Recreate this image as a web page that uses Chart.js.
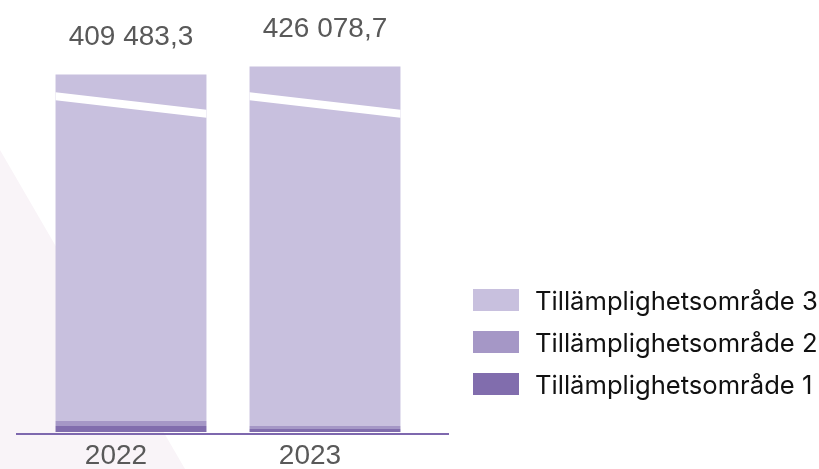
<!DOCTYPE html>
<html>
<head>
<meta charset="utf-8">
<script src="https://cdn.jsdelivr.net/npm/chart.js@4.4.1/dist/chart.umd.min.js"></script>
<style>
  html, body { margin: 0; padding: 0; background: #fff; }
  #wrap { position: relative; width: 819px; height: 469px; overflow: hidden; }
  #bg {
    position: absolute; left: 0; top: 0; width: 819px; height: 469px;
    background: #f9f4f8;
    clip-path: polygon(0 150px, 185px 469px, 0 469px);
  }
  #chart { position: absolute; left: 0; top: 0; }
  #legend {
    position: absolute; left: 473px; top: 279px;
    font-family: "Inter", sans-serif; font-size: 25.6px; color: #111;
  }
  .item { display: flex; align-items: center; height: 42px; white-space: nowrap; }
  .box { width: 46px; height: 22px; margin-right: 16px; flex: none; }
</style>
</head>
<body>
<div id="wrap">
  <div id="bg"></div>
  <canvas id="chart" width="819" height="469"></canvas>
  <div id="legend"></div>
</div>
<script>
const years  = ["2022", "2023"];
const totals = [409483.3, 426078.7];
const scope1 = [6300, 3100];
const scope2 = [5200, 3200];
const scope3 = [397983.3, 419778.7];

const seriesNames = ["Tillämplighetsområde 1", "Tillämplighetsområde 2", "Tillämplighetsområde 3"];
const colors = ["#816dad", "#a597c6", "#c8c0de"];

// y-axis with a break: values above breakAt are squeezed by breakRatio
class BrokenScale extends Chart.LinearScale {
  _squash(v) {
    const b = this.options.breakAt, r = this.options.breakRatio;
    return v <= b ? v : b + (v - b) * r;
  }
  getPixelForValue(v) {
    const lo = this._squash(this.min), hi = this._squash(this.max);
    return this.getPixelForDecimal((this._squash(v) - lo) / (hi - lo));
  }
  getValueForPixel(p) {
    const b = this.options.breakAt, r = this.options.breakRatio;
    const lo = this._squash(this.min), hi = this._squash(this.max);
    const d = lo + this.getDecimalForPixel(p) * (hi - lo);
    return d <= b ? d : b + (d - b) / r;
  }
}
BrokenScale.id = "broken";
BrokenScale.defaults = Chart.LinearScale.defaults;
Chart.register(BrokenScale);

function fmt(v) {
  const [i, d] = v.toFixed(1).split(".");
  return i.replace(/\B(?=(\d{3})+(?!\d))/g, "\u00a0") + "," + d;
}

const extras = {
  id: "extras",
  afterDatasetsDraw(chart) {
    const ctx = chart.ctx;
    const y = chart.scales.y;
    const area = chart.chartArea;
    const top = chart.getDatasetMeta(2).data;
    const breakPx = y.getPixelForValue(y.options.breakAt);

    ctx.save();
    // break marks
    ctx.fillStyle = "#ffffff";
    top.forEach(bar => {
      const l = bar.x - bar.width / 2, r = bar.x + bar.width / 2;
      const drop = bar.width * 0.116;
      ctx.beginPath();
      ctx.moveTo(l, breakPx - drop / 2 - 4);
      ctx.lineTo(r, breakPx + drop / 2 - 4);
      ctx.lineTo(r, breakPx + drop / 2 + 4);
      ctx.lineTo(l, breakPx - drop / 2 + 4);
      ctx.closePath();
      ctx.fill();
    });

    // totals above bars
    ctx.fillStyle = "#595959";
    ctx.font = "28px 'Liberation Sans', Arial, sans-serif";
    ctx.textAlign = "center";
    ctx.textBaseline = "middle";
    top.forEach((bar, i) => {
      ctx.fillText(fmt(totals[i]), bar.x, y.getPixelForValue(totals[i]) - 37);
    });

    // baseline
    ctx.strokeStyle = "#7e68ae";
    ctx.lineWidth = 2;
    ctx.beginPath();
    ctx.moveTo(area.left - 18, area.bottom + 2);
    ctx.lineTo(area.right + 27, area.bottom + 2);
    ctx.stroke();
    ctx.restore();
  }
};

new Chart(document.getElementById("chart"), {
  type: "bar",
  data: {
    labels: years,
    datasets: [scope1, scope2, scope3].map((d, i) => ({
      label: seriesNames[i],
      data: d,
      backgroundColor: colors[i],
      borderWidth: 0,
      categoryPercentage: 1,
      barPercentage: 0.778
    }))
  },
  options: {
    responsive: false,
    animation: false,
    layout: { padding: { left: 34, right: 397, top: 22, bottom: 0 } },
    plugins: { legend: { display: false }, tooltip: { enabled: false } },
    scales: {
      x: {
        stacked: true,
        grid: { display: false, drawTicks: false },
        border: { display: false },
        afterFit: scale => { scale.height = 37; },
        ticks: {
          color: "#595959",
          font: { family: "'Liberation Sans', Arial, sans-serif", size: 28, lineHeight: 1 },
          padding: 10,
          labelOffset: -15
        }
      },
      y: {
        type: "broken",
        stacked: true,
        display: false,
        min: 0,
        max: 520000,
        breakAt: 345000,
        breakRatio: 0.5
      }
    }
  },
  plugins: [extras]
});

// legend, top series first
const legendEl = document.getElementById("legend");
for (let i = seriesNames.length - 1; i >= 0; i--) {
  const item = document.createElement("div");
  item.className = "item";
  item.innerHTML = `<span class="box" style="background:${colors[i]}"></span><span>${seriesNames[i]}</span>`;
  legendEl.appendChild(item);
}
</script>
</body>
</html>
